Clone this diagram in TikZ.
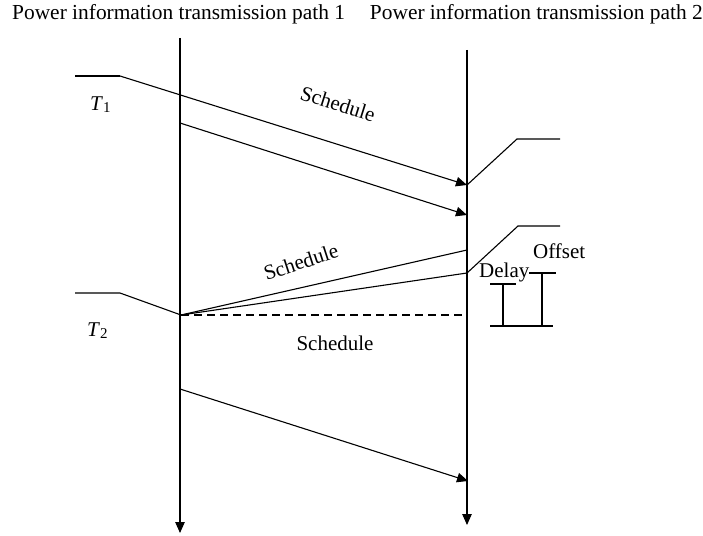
\documentclass[tikz,border=0pt]{standalone}
\usepackage{fontspec}
\setmainfont{Liberation Serif}
\usetikzlibrary{arrows.meta}
\begin{document}
\begin{tikzpicture}[x=1pt,y=-1pt,
  ln/.style={line width=1.1pt,line cap=butt},
  arr/.style={ln,-{Triangle[length=11pt,width=9.5pt]}},
  lbl/.style={inner sep=0pt,font=\fontsize{21}{25}\selectfont},
  hdr/.style={inner sep=0pt,font=\fontsize{21.4}{25}\selectfont}]
\useasboundingbox[fill=white] (0,0) rectangle (703,535);
% headers
\node[hdr,anchor=base west] (h1) at (12,20) {Power information transmission path 1};
\node[hdr,anchor=base east] (h2) at (703,20) {Power information transmission path 2};
% time lines
\coordinate (Ltop) at (180,38);
\coordinate (Lbot) at (180,533);
\coordinate (Rtop) at (467,50);
\coordinate (Rbot) at (467,525);
\draw[arr] (Ltop) -- (Lbot);
\draw[arr] (Rtop) -- (Rbot);
% T1 block
\coordinate (t1a) at (75,76);
\coordinate (t1b) at (120,76);
\coordinate (t1c) at (467,185);
\draw[ln] (t1a) -- (t1b);
\draw[arr] (t1b) -- (t1c);
\coordinate (r1b) at (517,139);
\coordinate (r1c) at (560,139);
\draw[ln] (t1c) -- (r1b) -- (r1c);
\node[lbl,anchor=base west] (T1) at (90,110) {\textit{T}\raisebox{-0.3ex}{\fontsize{15}{17}\selectfont 1}};
\node[lbl,rotate=-17.5] (s1) at (338,104) {Schedule};
\coordinate (a2s) at (180,123);
\coordinate (a2e) at (467,215);
\draw[arr] (a2s) -- (a2e);
% T2 block
\coordinate (t2a) at (75,293);
\coordinate (t2b) at (120,293);
\coordinate (t2c) at (181,315);
\draw[ln] (t2a) -- (t2b) -- (t2c);
\node[lbl,anchor=base west] (T2) at (87,336) {\textit{T}\raisebox{-0.3ex}{\fontsize{15}{17}\selectfont 2}};
\coordinate (u1) at (467,250);
\coordinate (u2) at (467,273);
\coordinate (d1) at (467,315);
\draw[ln] (t2c) -- (u1);
\draw[ln] (t2c) -- (u2);
\draw[ln,dash pattern=on 8pt off 5pt] (t2c) -- (d1);
\coordinate (r2b) at (518,226);
\coordinate (r2c) at (560,226);
\draw[ln] (u2) -- (r2b) -- (r2c);
\node[lbl,rotate=18] (s2) at (301,262) {Schedule};
\node[lbl] (s3) at (335,343) {Schedule};
% delay / offset brackets
\node[lbl,anchor=base west] (dl) at (479,277) {Delay};
\node[lbl,anchor=base west] (of) at (533,258) {Offset};
\coordinate (dt1) at (490,284);
\coordinate (dt2) at (516,284);
\coordinate (dv1) at (503,284);
\coordinate (dv2) at (503,326);
\coordinate (bb1) at (490,326);
\coordinate (bb2) at (553,326);
\coordinate (ot1) at (529,273);
\coordinate (ot2) at (556,273);
\coordinate (ov1) at (542,273);
\coordinate (ov2) at (542,326);
\draw[ln] (dt1) -- (dt2);
\draw[ln] (dv1) -- (dv2);
\draw[ln] (bb1) -- (bb2);
\draw[ln] (ot1) -- (ot2);
\draw[ln] (ov1) -- (ov2);
% bottom arrow
\coordinate (b1) at (180,389);
\coordinate (b2) at (468,481);
\draw[arr] (b1) -- (b2);
\end{tikzpicture}
\end{document}
